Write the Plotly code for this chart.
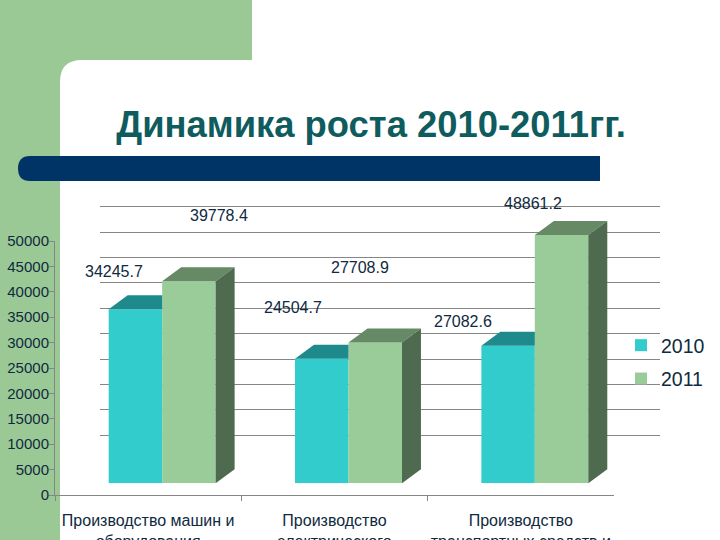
import plotly.graph_objects as go

categories = [
    "Производство машин и<br>оборудования",
    "Производство<br>электрического<br>оборудования",
    "Производство<br>транспортных средств и<br>оборудования",
]
series_names = ["2010", "2011"]
values_2010 = [34245.7, 24504.7, 27082.6]
values_2011 = [39778.4, 27708.9, 48861.2]
value_ticks = [0, 5000, 10000, 15000, 20000, 25000, 30000, 35000, 40000, 45000, 50000]

W, H = 720, 540
GREEN = "#99CC99"
TEAL = "#33CCCC"
TEXT = "#0F2A40"
GRID = "#868686"
FONT = "Liberation Sans"

# one value unit in pixels, taken from the 50000 tick height
PX_PER_VALUE = 254 / 50000
CAT_PX = 186.5
BARGAP = 0.426
BAR_W = (1 - BARGAP) / 2
DEPTH_X = 19 / CAT_PX
DEPTH_Y = 14 / PX_PER_VALUE


def fx(px):
    return px / W


def fy(px):
    return 1 - px / H


def polys(rows):
    xs, ys = [], []
    for row in rows:
        xs += [p[0] for p in row] + [row[0][0], None]
        ys += [p[1] for p in row] + [row[0][1], None]
    return xs, ys


def face(xs, ys, color, xaxis="x3", yaxis="y3"):
    return go.Scatter(
        x=xs, y=ys, mode="lines", fill="toself", fillcolor=color,
        line=dict(width=0, color=color), xaxis=xaxis, yaxis=yaxis,
        showlegend=False, hoverinfo="skip",
    )


fig = go.Figure()

# side walls drawn from the ticks, on the back wall axes so they sit under the bars
diag_x, diag_y = [], []
for v in value_ticks:
    diag_x += [0, -45 / 560, None]
    diag_y += [v, v - 34.3 / PX_PER_VALUE, None]
fig.add_trace(go.Scatter(
    x=diag_x, y=diag_y, mode="lines", line=dict(color=GRID, width=1),
    cliponaxis=False, showlegend=False, hoverinfo="skip", xaxis="x", yaxis="y",
))

# holds the front axis with the labels
fig.add_trace(go.Scatter(
    x=categories, y=[0] * len(categories), mode="markers", opacity=0,
    showlegend=False, hoverinfo="skip", xaxis="x2", yaxis="y2",
))

fig.add_trace(go.Bar(x=list(range(3)), y=values_2010, name=series_names[0], legendgroup=series_names[0],
                     marker=dict(color=TEAL, line=dict(width=0)),
                     xaxis="x3", yaxis="y3", hoverinfo="skip"))
fig.add_trace(go.Bar(x=list(range(3)), y=values_2011, name=series_names[1], legendgroup=series_names[1],
                     marker=dict(color=GREEN, line=dict(width=0)),
                     xaxis="x3", yaxis="y3", hoverinfo="skip"))

teal_tops = []
green_tops = []
green_sides = []
for i in range(3):
    a, b = values_2010[i], values_2011[i]
    teal_tops.append([(i - BAR_W, a), (i - BAR_W + DEPTH_X, a + DEPTH_Y), (i, a + DEPTH_Y), (i, a)])
    green_tops.append([(i, b), (i + DEPTH_X, b + DEPTH_Y), (i + BAR_W + DEPTH_X, b + DEPTH_Y), (i + BAR_W, b)])
    green_sides.append([(i + BAR_W, 0), (i + BAR_W + DEPTH_X, DEPTH_Y),
                        (i + BAR_W + DEPTH_X, b + DEPTH_Y), (i + BAR_W, b)])
fig.add_trace(face(*polys(teal_tops), "#1F8A8C"))
fig.add_trace(face(*polys(green_tops), "#668A66"))
fig.add_trace(face(*polys(green_sides), "#4F6B4F"))

# data labels sit away from their bars in the original
label_shift = [(-21, 38), (-29, 51), (-45, 24), (30, 66), (-15, 75), (-29, 32)]
annotations = []
k = 0
for vals, off in ((values_2010, -BAR_W / 2), (values_2011, BAR_W / 2)):
    for i, v in enumerate(vals):
        sx, sy = label_shift[k]
        k += 1
        annotations.append(dict(
            x=i + off, y=v, xref="x3", yref="y3", text=str(v), showarrow=False,
            xshift=sx, yshift=sy, font=dict(family=FONT, size=16, color=TEXT),
        ))

shapes = [
    dict(type="path", xref="paper", yref="paper", layer="below", fillcolor="#9BC995", line_width=0,
         path=f"M0,{fy(0)} L{fx(252)},{fy(0)} L{fx(252)},{fy(60)} L{fx(82)},{fy(60)} "
              f"Q{fx(60)},{fy(60)} {fx(60)},{fy(82)} L{fx(60)},{fy(540)} L0,{fy(540)} Z"),
    dict(type="path", xref="paper", yref="paper", layer="below", fillcolor="#003366", line_width=0,
         path=f"M{fx(600)},{fy(156)} L{fx(30)},{fy(156)} Q{fx(18)},{fy(156)} {fx(18)},{fy(168.5)} "
              f"Q{fx(18)},{fy(181)} {fx(30)},{fy(181)} L{fx(600)},{fy(181)} Z"),
]

fig.update_layout(
    template="none",
    width=W, height=H,
    margin=dict(l=0, r=0, t=0, b=0),
    paper_bgcolor="white", plot_bgcolor="rgba(0,0,0,0)",
    barmode="group", bargap=BARGAP, bargroupgap=0,
    title=dict(text="<b>Динамика роста 2010-2011гг.</b>", x=fx(371), xanchor="center",
               y=fy(124), yanchor="middle", font=dict(family=FONT, size=36.4, color="#0F5C5E")),
    shapes=shapes,
    annotations=annotations,
    showlegend=True,
    legend=dict(x=fx(621), y=fy(326), xanchor="left", yanchor="top", bgcolor="rgba(0,0,0,0)",
                tracegroupgap=5, font=dict(family=FONT, size=19.5, color=TEXT)),
    # back wall
    xaxis=dict(domain=[fx(100), fx(660)], range=[0, 1], visible=False, fixedrange=True),
    yaxis=dict(domain=[fy(460.7), fy(460.7 - 304.8)], range=[0, 60000], tickvals=value_ticks,
               showgrid=True, gridcolor=GRID, gridwidth=1, zeroline=False, showticklabels=False,
               ticks="", showline=False, fixedrange=True),
    # front axis with labels
    xaxis2=dict(domain=[fx(55), fx(614)], anchor="y2", type="category", tickson="boundaries",
                range=[-0.5, 2.5], ticklabelstandoff=11,
                ticks="outside", ticklen=5, tickcolor=GRID, showline=True, linecolor=GRID, showgrid=False,
                tickangle=0, tickfont=dict(family=FONT, size=16, color=TEXT), fixedrange=True),
    yaxis2=dict(domain=[fy(495), fy(241)], range=[0, 50000], anchor="x2", tickvals=value_ticks,
                tickformat="d", ticklabelstandoff=-3,
                ticks="outside", ticklen=5, tickcolor=GRID, showline=True, linecolor=GRID, showgrid=False,
                zeroline=False, tickfont=dict(family=FONT, size=15, color=TEXT), fixedrange=True),
    # plane the bars stand on
    xaxis3=dict(domain=[fx(69), fx(628)], range=[-0.5, 2.5], anchor="y3", visible=False, fixedrange=True),
    yaxis3=dict(domain=[fy(483.3), fy(483.3 - 304.8)], range=[0, 60000], anchor="x3", visible=False,
                fixedrange=True),
)

fig.write_html("out.html", config=dict(displayModeBar=False),
               post_script="document.body.style.margin='0';document.body.style.overflow='hidden';")
